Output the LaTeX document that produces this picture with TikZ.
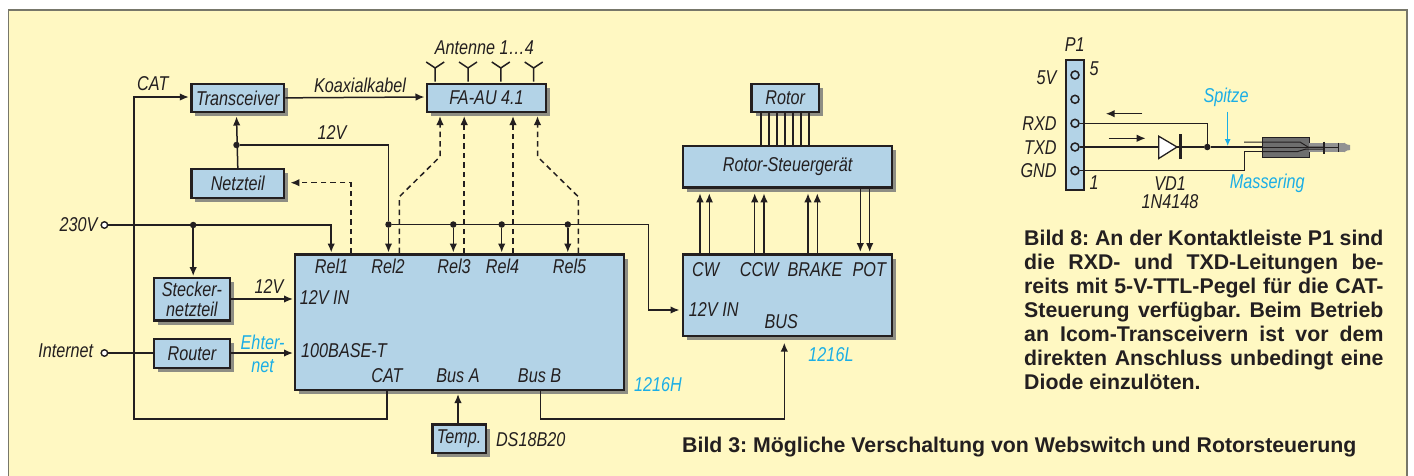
\documentclass[tikz,border=0pt]{standalone}
\usepackage{fontspec}
\setmainfont{Liberation Sans}[ItalicFeatures={FakeStretch=0.81}]
\usetikzlibrary{arrows.meta,shadows,calc}
\frenchspacing
\definecolor{panelbg}{HTML}{FFF8C2}
\definecolor{boxblue}{HTML}{B3D3E7}
\definecolor{inkdark}{HTML}{231F20}
\definecolor{skycyan}{HTML}{1BAEE6}
\definecolor{shadowgray}{HTML}{8E8E84}
\definecolor{panelline}{HTML}{77776A}
\definecolor{pluggray}{HTML}{6E6E6E}
\tikzset{
  block/.style={draw=inkdark,fill=boxblue,line width=2.4pt,inner sep=0pt,align=center,
    text=inkdark,font=\itshape\fontsize{20}{19.5}\selectfont,
    drop shadow={shadow xshift=4pt,shadow yshift=-4pt,opacity=1,fill=shadowgray}},
  lbl/.style={inner sep=0pt,text=inkdark,font=\itshape\fontsize{20}{20}\selectfont},
  cyanlbl/.style={lbl,text=skycyan},
  wire/.style={draw=inkdark,line width=1.5pt},
  tipped/.style={-{Latex[length=9pt,width=7.5pt]}},
  dashwire/.style={wire,dash pattern=on 5.5pt off 4pt},
  junction/.style={circle,fill=inkdark,inner sep=0pt,minimum size=6.5pt},
  terminal/.style={circle,draw=inkdark,fill=white,line width=1.4pt,inner sep=0pt,minimum size=6.5pt},
  pinhole/.style={circle,draw=inkdark,fill=boxblue,line width=1.5pt,inner sep=0pt,minimum size=8pt},
  caption/.style={inner sep=0pt,text=inkdark,font=\bfseries\fontsize{21.3}{24}\selectfont}
}
\newcommand\blockat[6]{%
  \pgfmathsetmacro\bcx{(#2+#4)/2}\pgfmathsetmacro\bcy{(#3+#5)/2}%
  \pgfmathsetmacro\bw{#4-#2-2.4}\pgfmathsetmacro\bh{#5-#3-2.4}%
  \node[block,minimum width=\bw pt,minimum height=\bh pt] (#1) at (\bcx,\bcy) {#6};}
\begin{document}
\begin{tikzpicture}[x=1pt,y=-1pt]
\useasboundingbox (0,0) rectangle (1414,475);
\fill[white] (0,0) rectangle (1414,475);
\begin{scope}
\clip (0,0) rectangle (1414,475);
\draw[panelline,line width=1.3pt,fill=panelbg] (8.4,10) rectangle (1407,490);
\end{scope}

% blocks
\blockat{trx}{190.2}{82.7}{285.4}{113}{Transceiver}
\blockat{fa}{426}{82.5}{547}{113}{FA-AU 4.1}
\blockat{netz}{190.2}{168}{285.4}{199}{Netzteil}
\blockat{stk}{152.8}{277}{231}{321.7}{Stecker-\\netzteil}
\blockat{rtr}{152.8}{337.7}{231}{369}{Router}
\blockat{high}{293.8}{253.3}{625}{391}{}
\blockat{tmp}{431.4}{423.3}{487}{454.3}{Temp.}
\blockat{rot}{750.3}{82.7}{820}{113.3}{Rotor}
\blockat{ctl}{682}{144.7}{893.3}{188.7}{Rotor-Steuergerät}
\blockat{low}{682}{253.3}{893.3}{337.3}{}

% junctions and terminals
\node[terminal] (t230) at (104.4,225) {};
\node[terminal] (tnet) at (104.4,353) {};
\node[junction] (d230) at (193.2,225) {};
\node[junction] (dtrx) at (236.5,145) {};
\node[junction] (d12) at (388.5,224.5) {};
\node[junction] (dr3) at (453.3,224.5) {};
\node[junction] (dr4) at (501.7,224.5) {};
\node[junction] (dr5) at (567.8,224.5) {};

% pins
\coordinate (pStk) at (193.2,276);
\coordinate (pR1) at (331.2,252.5);
\coordinate (pR2) at (388.5,252.5);
\coordinate (pR3) at (453.3,252.5);
\coordinate (pR4) at (501.7,252.5);
\coordinate (pR5) at (567.8,252.5);
\coordinate (pTrxUp) at (236.5,116.5);
\coordinate (pTrxIn) at (188.8,97);
\coordinate (pFaIn) at (424.5,97);
\coordinate (cCAT) at (133.8,419);
\coordinate (pCAT) at (387.2,391);
\coordinate (c12L) at (648.7,310);
\coordinate (p12L) at (679.5,310);
\coordinate (pBusB) at (540.4,391);
\coordinate (cBus) at (784.3,419);
\coordinate (pBusL) at (784.3,342.7);
\coordinate (pBusA) at (458,394);
\coordinate (pTmp) at (458,423.3);
\coordinate (pStkOut) at (231,299);
\coordinate (pHiA) at (293,299);
\coordinate (pRtrOut) at (231,353);
\coordinate (pHiB) at (293,353);
\coordinate (pNet) at (290.4,182.7);
\coordinate (dRel1) at (351,253);
\coordinate (dRel2) at (399.4,253);
\coordinate (kRel2a) at (399.4,196.7);
\coordinate (kRel2b) at (440,156.7);
\coordinate (tipA) at (440,116);
\coordinate (dRel3) at (464.2,253);
\coordinate (tipB) at (464.2,116);
\coordinate (dRel4) at (513,253);
\coordinate (tipC) at (513,116);
\coordinate (dRel5) at (578.3,253);
\coordinate (kRel5a) at (578.3,196.7);
\coordinate (kRel5b) at (537.5,156.7);
\coordinate (tipD) at (537.5,116);

% solid connectors
\draw[wire,tipped] (trx.east) -- (pFaIn);
\draw[wire,tipped] (pCAT) |- (cCAT) |- (pTrxIn);
\draw[wire,tipped] (netz.north) -- (pTrxUp);
\draw[wire] (dtrx) -| (d12);
\draw[wire,tipped] (d12) -- (pR2);
\draw[wire,tipped] (t230) -| (pR1);
\draw[wire,tipped] (d230) -- (pStk);
\draw[wire,tipped] (d12) -| (c12L) -- (p12L);
\draw[wire,tipped] (dr3) -- (pR3);
\draw[wire,tipped] (dr4) -- (pR4);
\draw[wire,tipped] (dr5) -- (pR5);
\draw[wire,tipped] (pStkOut) -- (pHiA);
\draw[wire] (tnet) -- (rtr.west |- tnet);
\draw[wire,tipped] (pRtrOut) -- (pHiB);
\draw[wire,tipped] (pTmp) -- (pBusA);
\draw[wire,tipped] (pBusB) |- (cBus) -- (pBusL);

% dashed connectors
\draw[dashwire,tipped] (dRel1) |- (pNet);
\draw[dashwire,tipped] (dRel2) -- (kRel2a) -- (kRel2b) -- (tipA);
\draw[dashwire,tipped] (dRel3) -- (tipB);
\draw[dashwire,tipped] (dRel4) -- (tipC);
\draw[dashwire,tipped] (dRel5) -- (kRel5a) -- (kRel5b) -- (tipD);

% antennas
\foreach \ax/\an in {435.2/a,468/b,500.8/c,533.7/d}{
  \coordinate (ant\an) at (\ax,81.5);
  \draw[wire] (ant\an) -- ++(0,-13.5) -- ++(-9,-6) ++(9,6) -- ++(9,-6);
}
% rotor bundle
\foreach \rx/\rn in {761/1,769/2,777/3,785/4,793/5,801/6,809/7}{
  \coordinate (ra\rn) at (\rx,113.3);
  \coordinate (rb\rn) at (\rx,144.7);
  \draw[wire] (ra\rn) -- (rb\rn);
}
% control lines
\foreach \cx/\cn in {700/1,709.3/2,754.7/3,764/4,808/5,817.3/6}{
  \coordinate (ca\cn) at (\cx,253.3);
  \coordinate (cb\cn) at (\cx,193.3);
  \draw[wire,tipped] (ca\cn) -- (cb\cn);
}
\foreach \cx/\cn in {860.3/7,869.7/8}{
  \coordinate (ca\cn) at (\cx,188.7);
  \coordinate (cb\cn) at (\cx,252);
  \draw[wire,tipped] (ca\cn) -- (cb\cn);
}

% labels left diagram
\node[lbl] (lCat) at (152.8,84) {CAT};
\node[lbl] (lKoax) at (360,85) {Koaxialkabel};
\node[lbl] (l12a) at (332,133) {12V};
\node[lbl] (lAnt) at (484.4,47.7) {Antenne 1…4};
\node[lbl,anchor=east] (l230) at (97.6,224.7) {230V};
\node[lbl,anchor=east] (lInet) at (93.4,351) {Internet};
\node[lbl] (lR1) at (331.6,266.7) {Rel1};
\node[lbl] (lR2) at (388,266.7) {Rel2};
\node[lbl] (lR3) at (454,266.7) {Rel3};
\node[lbl] (lR4) at (502.5,266.7) {Rel4};
\node[lbl] (lR5) at (569.5,266.7) {Rel5};
\node[lbl,anchor=west] (l12in) at (299.7,297.3) {12V IN};
\node[lbl,anchor=west] (lbase) at (301,350.7) {100BASE-T};
\node[lbl] (lCat2) at (387,376) {CAT};
\node[lbl] (lBusA) at (458,376) {Bus A};
\node[lbl] (lBusB) at (539.6,376) {Bus B};
\node[lbl] (l12b) at (269,286.7) {12V};
\node[cyanlbl] (lEth1) at (262.6,342.3) {Ehter-};
\node[cyanlbl] (lEth2) at (262.6,365.7) {net};
\node[cyanlbl] (lHigh) at (658,385) {1216H};
\node[lbl,anchor=west] (lDs) at (495.8,440) {DS18B20};
\node[lbl] (lCw) at (705.7,269.3) {CW};
\node[lbl] (lCcw) at (759.3,269.3) {CCW};
\node[lbl] (lBrk) at (815,269.3) {BRAKE};
\node[lbl] (lPot) at (869.3,269.3) {POT};
\node[lbl] (l12c) at (713.7,310) {12V IN};
\node[lbl] (lBus) at (781.3,322) {BUS};
\node[cyanlbl] (lLow) at (831,355) {1216L};

% P1 header
\node[draw=inkdark,fill=boxblue,line width=2pt,inner sep=0pt,minimum width=18pt,minimum height=129.4pt] (hdr) at (1075,125) {};
\node[pinhole] (h5) at (1075,75) {};
\node[pinhole] (h4) at (1075,99.3) {};
\node[pinhole] (hr) at (1075,123.3) {};
\node[pinhole] (ht) at (1075,147) {};
\node[pinhole] (hg) at (1075,170.7) {};
\node[lbl] (lP1) at (1074.7,45) {P1};
\node[lbl] (l5) at (1094,69) {5};
\node[lbl] (l1) at (1094,183) {1};
\node[lbl,anchor=east] (l5v) at (1056.7,78) {5V};
\node[lbl,anchor=east] (lrx) at (1056.7,124) {RXD};
\node[lbl,anchor=east] (ltx) at (1056.7,147.7) {TXD};
\node[lbl,anchor=east] (lgn) at (1056.7,171) {GND};
\node[lbl] (lVd) at (1170,183.3) {VD1};
\node[lbl] (lIn) at (1170,201.7) {1N4148};
\node[cyanlbl] (lSp) at (1226,97.3) {Spitze};
\node[cyanlbl] (lMs) at (1267.3,183.3) {Massering};

% jack plug
\node[draw=inkdark,fill=pluggray,line width=1pt,inner sep=0pt,minimum width=47pt,minimum height=19.5pt] (plug) at (1285.5,147.3) {};
\fill[pluggray!75] (1309.3,142.7) rectangle (1344,152.3);
\fill[pluggray!75] (1344,142.7) -- (1347,144.5) -- (1350,145) -- (1350,150) -- (1347,150.5) -- (1344,152.3) -- cycle;
\draw[inkdark,line width=2pt] (1323.5,141.5) -- (1323.5,153.5);
\draw[inkdark,line width=.8pt] (1338,142.7) -- (1338,152.3);
\draw[inkdark,line width=1pt] (1244,142) -- (1300,142) -- (1308,147) -- (1325,147);
\draw[inkdark,line width=1pt] (1261.7,147) -- (1338,147);
\draw[inkdark,line width=1pt] (1261.7,151.7) -- (1297,151.7) -- (1306,149) -- (1323,149);

% diode and P1 wiring
\coordinate (cRx) at (1207.3,123.3);
\node[junction] (dJ) at (1207.3,147) {};
\coordinate (dA) at (1158.7,147);
\coordinate (cGnd) at (1244.7,170.7);
\coordinate (cGnd2) at (1244.7,151.7);
\coordinate (pPlugT) at (1262,147);
\coordinate (pPlugG) at (1262,151.7);
\draw[wire] (hr) -- (cRx) -- (dJ);
\draw[wire] (ht) -- (dA);
\draw[wire] (dA) -- (dJ) -- (pPlugT);
\draw[wire] (hg) -- (cGnd) -- (cGnd2) -- (pPlugG);
\draw[inkdark,line width=1.3pt,fill=white] (1158.7,136.2) -- (1177,147) -- (1158.7,158.5) -- cycle;
\draw[inkdark,line width=3pt] (1180,134.3) -- (1180,159.3);
\coordinate (aLs) at (1142.3,113.7);
\coordinate (aLe) at (1105.7,113.7);
\coordinate (aRs) at (1108.7,138.3);
\coordinate (aRe) at (1145.7,138.3);
\draw[wire,tipped] (aLs) -- (aLe);
\draw[wire,tipped] (aRs) -- (aRe);
\coordinate (aSs) at (1227.7,111.7);
\coordinate (aSe) at (1227.7,146);
\draw[draw=skycyan,line width=1.1pt,-{Latex[length=7pt,width=6pt]}] (aSs) -- (aSe);

% captions
\node[caption,anchor=north west,text width=359.3pt,align=justify] (cap8) at (1024,230) {Bild 8: An der Kontaktleiste P1 sind\linebreak
die RXD- und TXD-Leitungen be-\linebreak
reits mit 5-V-TTL-Pegel für die CAT-\linebreak
Steuerung verfügbar. Beim Betrieb\linebreak
an Icom-Transceivern ist vor dem\linebreak
direkten Anschluss unbedingt eine\linebreak
Diode einzulöten.};
\node[caption,anchor=west] (cap3) at (682,446.7) {Bild 3: Mögliche Verschaltung von Webswitch und Rotorsteuerung};
\end{tikzpicture}
\end{document}
